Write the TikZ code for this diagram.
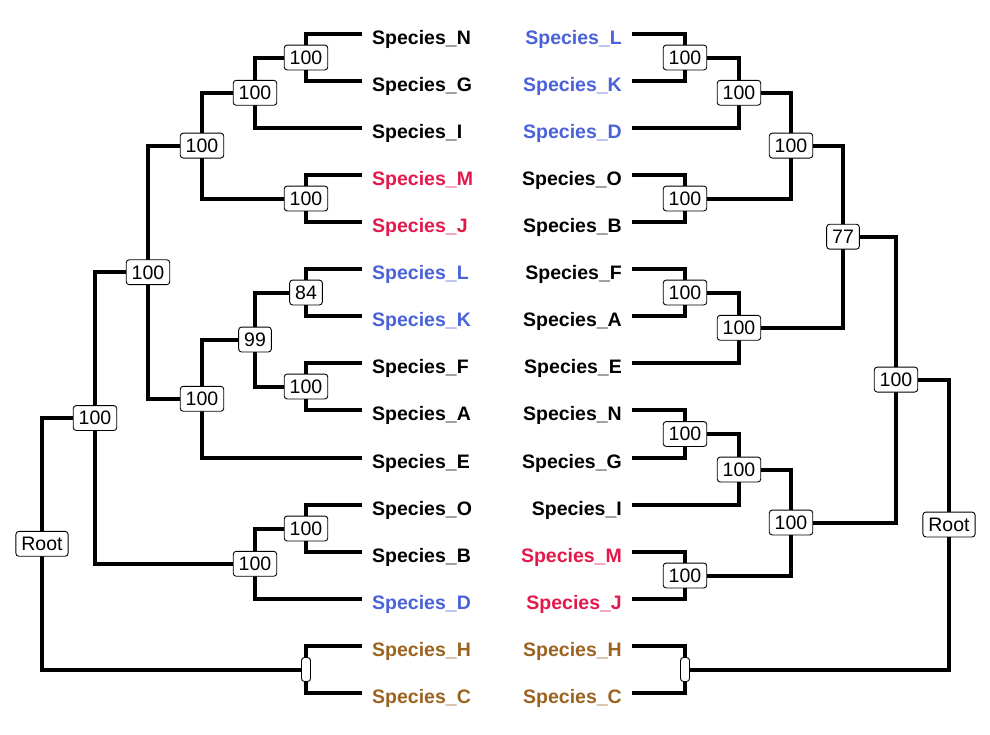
\documentclass[tikz,border=0pt]{standalone}
\usepackage{fontspec}
\setmainfont{Liberation Sans}
\usetikzlibrary{calc}
\definecolor{sblue}{HTML}{4A62D8}
\definecolor{sred}{HTML}{E3194B}
\definecolor{sbrown}{HTML}{9A6420}
\pgfdeclarelayer{bg}
\pgfsetlayers{bg,main}
\tikzset{
	leafL/.style={anchor=west, inner xsep=10pt, inner ysep=0pt, text height=20pt, text depth=0pt, font=\fontsize{19.5}{19.5}\selectfont\bfseries},
	leafR/.style={leafL, anchor=east},
	boot/.style={draw, fill=white, rounded corners=3pt, line width=0.9pt, inner xsep=5.5pt, inner ysep=5.5pt, text height=13.9pt, text depth=0pt, font=\fontsize{19.5}{19.5}\selectfont},
	tick/.style={boot, minimum width=9pt, minimum height=24pt, inner sep=0pt},
	branch/.style={line width=4pt, line join=miter},
}

\begin{document}
\begin{tikzpicture}[x=1pt, y=-1pt]
		%%%%% START %%%%%
		\useasboundingbox (0, 0) rectangle (990, 734);
		
		% left tree, tips
		\node[leafL] (lN) at (362, 34) {Species\_N};
		\node[leafL] (lG) at (362, 81) {Species\_G};
		\node[leafL] (lI) at (362, 128) {Species\_I};
		\node[leafL, color=sred] (lM) at (362, 175) {Species\_M};
		\node[leafL, color=sred] (lJ) at (362, 222) {Species\_J};
		\node[leafL, color=sblue] (lL) at (362, 269) {Species\_L};
		\node[leafL, color=sblue] (lK) at (362, 316) {Species\_K};
		\node[leafL] (lF) at (362, 363) {Species\_F};
		\node[leafL] (lA) at (362, 410) {Species\_A};
		\node[leafL] (lE) at (362, 458) {Species\_E};
		\node[leafL] (lO) at (362, 505) {Species\_O};
		\node[leafL] (lB) at (362, 552) {Species\_B};
		\node[leafL, color=sblue] (lD) at (362, 599) {Species\_D};
		\node[leafL, color=sbrown] (lH) at (362, 646) {Species\_H};
		\node[leafL, color=sbrown] (lC) at (362, 693) {Species\_C};
		
		% left tree, support values
		\node[boot] (nNG) at (306, 57.5) {100};
		\node[boot] (nNGI) at (255, 92.8) {100};
		\node[boot] (nMJ) at (306, 198.5) {100};
		\node[boot] (nTop) at (202, 145.6) {100};
		\node[boot] (nLK) at (306, 292.5) {84};
		\node[boot] (nFA) at (306, 386.5) {100};
		\node[boot] (nLKFA) at (255, 339.5) {99};
		\node[boot] (nMid) at (202, 398.8) {100};
		\node[boot] (nBig) at (148, 272.2) {100};
		\node[boot] (nOB) at (306, 528.5) {100};
		\node[boot] (nOBD) at (255, 563.8) {100};
		\node[boot] (nUp) at (95, 418) {100};
		\node[tick] (nHC) at (306, 669.5) {};
		\node[boot] (nRoot) at (42, 543.8) {Root};
		
		% right tree, tips
		\node[leafR, color=sblue] (rL) at (632, 34) {Species\_L};
		\node[leafR, color=sblue] (rK) at (632, 81) {Species\_K};
		\node[leafR, color=sblue] (rD) at (632, 128) {Species\_D};
		\node[leafR] (rO) at (632, 175) {Species\_O};
		\node[leafR] (rB) at (632, 222) {Species\_B};
		\node[leafR] (rF) at (632, 269) {Species\_F};
		\node[leafR] (rA) at (632, 316) {Species\_A};
		\node[leafR] (rE) at (632, 363) {Species\_E};
		\node[leafR] (rN) at (632, 410) {Species\_N};
		\node[leafR] (rG) at (632, 458) {Species\_G};
		\node[leafR] (rI) at (632, 505) {Species\_I};
		\node[leafR, color=sred] (rM) at (632, 552) {Species\_M};
		\node[leafR, color=sred] (rJ) at (632, 599) {Species\_J};
		\node[leafR, color=sbrown] (rH) at (632, 646) {Species\_H};
		\node[leafR, color=sbrown] (rC) at (632, 693) {Species\_C};
		
		% right tree, support values
		\node[boot] (mLK) at (685, 57.5) {100};
		\node[boot] (mLKD) at (739, 92.8) {100};
		\node[boot] (mOB) at (685, 198.5) {100};
		\node[boot] (mTop) at (791, 145.6) {100};
		\node[boot] (mFA) at (685, 292.5) {100};
		\node[boot] (mFAE) at (739, 327.8) {100};
		\node[boot] (m77) at (843, 236.7) {77};
		\node[boot] (mNG) at (685, 434) {100};
		\node[boot] (mNGI) at (739, 469.5) {100};
		\node[boot] (mMJ) at (685, 575.5) {100};
		\node[boot] (mLow) at (791, 522.5) {100};
		\node[boot] (mBig) at (896, 379.6) {100};
		\node[tick] (mHC) at (685, 669.5) {};
		\node[boot] (mRoot) at (949, 524.5) {Root};
		
		\begin{pgfonlayer}{bg}
		% left tree, branches
		\draw[branch] (lN) -| (nNG.center) |- (lG);
		\draw[branch] (nNG) -| (nNGI.center) |- (lI);
		\draw[branch] (lM) -| (nMJ.center) |- (lJ);
		\draw[branch] (nNGI) -| (nTop.center) |- (nMJ);
		\draw[branch] (lL) -| (nLK.center) |- (lK);
		\draw[branch] (lF) -| (nFA.center) |- (lA);
		\draw[branch] (nLK) -| (nLKFA.center) |- (nFA);
		\draw[branch] (nLKFA) -| (nMid.center) |- (lE);
		\draw[branch] (nTop) -| (nBig.center) |- (nMid);
		\draw[branch] (lO) -| (nOB.center) |- (lB);
		\draw[branch] (nOB) -| (nOBD.center) |- (lD);
		\draw[branch] (nBig) -| (nUp.center) |- (nOBD);
		\draw[branch] (lH) -| (nHC.center) |- (lC);
		\draw[branch] (nUp) -| (nRoot.center) |- (nHC);
		
		% right tree, branches
		\draw[branch] (rL) -| (mLK.center) |- (rK);
		\draw[branch] (mLK) -| (mLKD.center) |- (rD);
		\draw[branch] (rO) -| (mOB.center) |- (rB);
		\draw[branch] (mLKD) -| (mTop.center) |- (mOB);
		\draw[branch] (rF) -| (mFA.center) |- (rA);
		\draw[branch] (mFA) -| (mFAE.center) |- (rE);
		\draw[branch] (mTop) -| (m77.center) |- (mFAE);
		\draw[branch] (rN) -| (mNG.center) |- (rG);
		\draw[branch] (mNG) -| (mNGI.center) |- (rI);
		\draw[branch] (rM) -| (mMJ.center) |- (rJ);
		\draw[branch] (mNGI) -| (mLow.center) |- (mMJ);
		\draw[branch] (m77) -| (mBig.center) |- (mLow);
		\draw[branch] (rH) -| (mHC.center) |- (rC);
		\draw[branch] (mBig) -| (mRoot.center) |- (mHC);
		\end{pgfonlayer}
		
		%%%%% END %%%%%
\end{tikzpicture}
\end{document}
